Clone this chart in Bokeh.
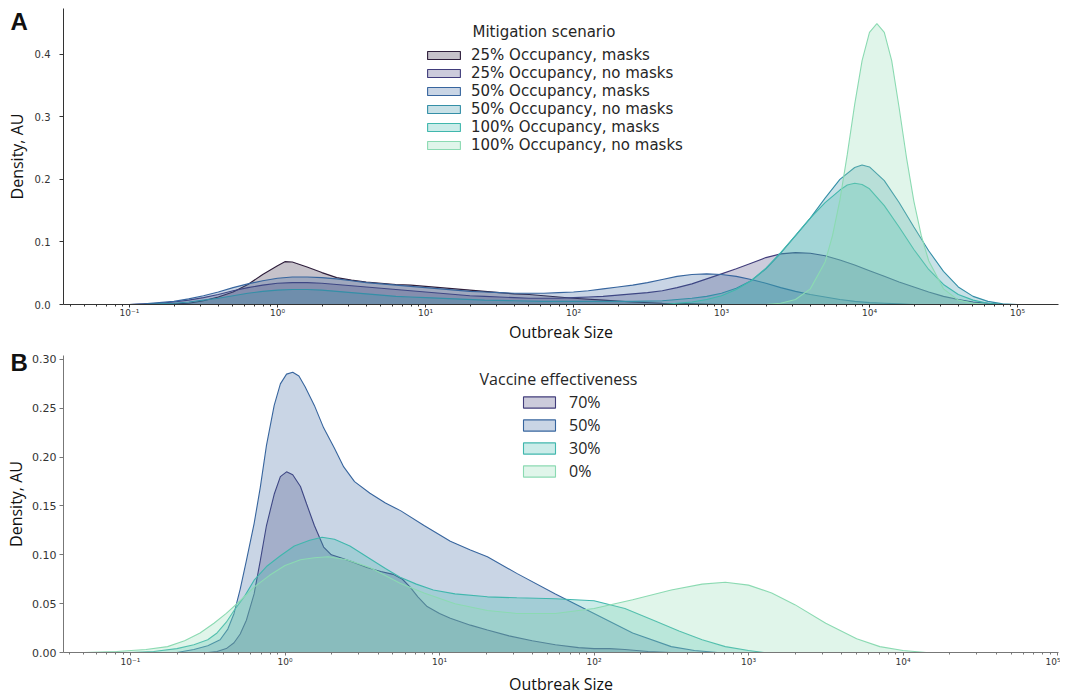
from bokeh.plotting import figure
from bokeh.models import (Legend, LegendItem, Label, FixedTicker, CustomJSTickFormatter,
                          Range1d, PrintfTickFormatter, LinearAxis)
from bokeh.layouts import column
from bokeh.embed import file_html
from bokeh.resources import INLINE

# ---------------- data: (log10 outbreak size, density) ----------------
A_LABELS = ["25% Occupancy, masks", "25% Occupancy, no masks", "50% Occupancy, masks",
            "50% Occupancy, no masks", "100% Occupancy, masks", "100% Occupancy, no masks"]
A_COLORS = ["#2e1e3b", "#413d7b", "#37659e", "#348fa7", "#40b7ad", "#8bdab2"]

occ25_masks = [(-0.8, 0), (-0.7, 0.001), (-0.6, 0.002), (-0.5, 0.006), (-0.4, 0.012), (-0.3, 0.020),
               (-0.2, 0.032), (-0.1, 0.048), (0.0, 0.062), (0.05, 0.0685), (0.1, 0.068), (0.2, 0.060),
               (0.3, 0.051), (0.4, 0.043), (0.5, 0.039), (0.6, 0.036), (0.7, 0.034), (0.8, 0.032),
               (0.9, 0.031), (1.0, 0.029), (1.1, 0.027), (1.2, 0.025), (1.3, 0.023), (1.4, 0.021),
               (1.5, 0.019), (1.6, 0.017), (1.7, 0.016), (1.8, 0.014), (1.9, 0.012), (2.0, 0.010),
               (2.2, 0.007), (2.4, 0.004), (2.6, 0.002), (2.8, 0.001), (3.0, 0)]
occ25_nomasks = [(-1.0, 0), (-0.9, 0.001), (-0.8, 0.002), (-0.7, 0.004), (-0.6, 0.007), (-0.5, 0.011),
                 (-0.4, 0.016), (-0.3, 0.022), (-0.2, 0.027), (-0.1, 0.031), (0.0, 0.034), (0.1, 0.035),
                 (0.2, 0.035), (0.3, 0.034), (0.4, 0.032), (0.5, 0.030), (0.6, 0.028), (0.7, 0.026),
                 (0.8, 0.024), (0.9, 0.022), (1.0, 0.020), (1.1, 0.018), (1.2, 0.016), (1.3, 0.014),
                 (1.4, 0.013), (1.5, 0.012), (1.6, 0.011), (1.7, 0.010), (1.8, 0.010), (1.9, 0.010),
                 (2.0, 0.011), (2.1, 0.012), (2.2, 0.013), (2.3, 0.015), (2.4, 0.017), (2.5, 0.019),
                 (2.6, 0.022), (2.7, 0.027), (2.8, 0.033), (2.9, 0.041), (3.0, 0.049), (3.1, 0.057),
                 (3.2, 0.066), (3.3, 0.075), (3.4, 0.081), (3.5, 0.083), (3.6, 0.082), (3.7, 0.078),
                 (3.8, 0.071), (3.9, 0.063), (4.0, 0.054), (4.1, 0.045), (4.2, 0.036), (4.3, 0.028),
                 (4.4, 0.020), (4.5, 0.013), (4.6, 0.008), (4.7, 0.004), (4.8, 0.002), (4.9, 0)]
occ50_masks = [(-1.0, 0), (-0.9, 0.001), (-0.8, 0.003), (-0.7, 0.005), (-0.6, 0.009), (-0.5, 0.014),
               (-0.4, 0.020), (-0.3, 0.027), (-0.2, 0.033), (-0.1, 0.038), (0.0, 0.042), (0.1, 0.044),
               (0.2, 0.044), (0.3, 0.043), (0.4, 0.041), (0.5, 0.038), (0.6, 0.035), (0.7, 0.033),
               (0.8, 0.031), (0.9, 0.029), (1.0, 0.027), (1.1, 0.025), (1.2, 0.023), (1.3, 0.021),
               (1.4, 0.020), (1.5, 0.019), (1.6, 0.018), (1.7, 0.018), (1.8, 0.018), (1.9, 0.019),
               (2.0, 0.020), (2.1, 0.022), (2.2, 0.025), (2.3, 0.028), (2.4, 0.031), (2.5, 0.035),
               (2.6, 0.040), (2.7, 0.045), (2.8, 0.048), (2.9, 0.049), (3.0, 0.048), (3.1, 0.045),
               (3.2, 0.040), (3.3, 0.034), (3.4, 0.027), (3.5, 0.021), (3.6, 0.016), (3.7, 0.012),
               (3.8, 0.008), (3.9, 0.005), (4.0, 0.003), (4.1, 0.002), (4.2, 0.001), (4.3, 0)]
occ50_nomasks = [(-0.9, 0), (-0.8, 0.001), (-0.7, 0.002), (-0.6, 0.004), (-0.5, 0.007), (-0.4, 0.010),
                 (-0.3, 0.014), (-0.2, 0.018), (-0.1, 0.021), (0.0, 0.023), (0.1, 0.024), (0.2, 0.024),
                 (0.3, 0.023), (0.4, 0.021), (0.5, 0.019), (0.6, 0.017), (0.7, 0.015), (0.8, 0.013),
                 (0.9, 0.012), (1.0, 0.011), (1.2, 0.009), (1.4, 0.007), (1.6, 0.006), (1.8, 0.005),
                 (2.0, 0.005), (2.2, 0.005), (2.4, 0.005), (2.6, 0.006), (2.7, 0.008), (2.8, 0.010),
                 (2.9, 0.013), (3.0, 0.018), (3.1, 0.026), (3.2, 0.038), (3.3, 0.057), (3.4, 0.082),
                 (3.5, 0.110), (3.6, 0.138), (3.7, 0.170), (3.8, 0.200), (3.9, 0.219), (3.95, 0.223),
                 (4.0, 0.220), (4.1, 0.198), (4.2, 0.163), (4.3, 0.124), (4.4, 0.086), (4.5, 0.053),
                 (4.6, 0.028), (4.7, 0.013), (4.8, 0.005), (4.9, 0.001), (5.0, 0)]
occ100_masks = [(2.6, 0), (2.7, 0.002), (2.8, 0.004), (2.9, 0.008), (3.0, 0.014), (3.1, 0.024),
                (3.2, 0.038), (3.3, 0.058), (3.4, 0.083), (3.5, 0.110), (3.6, 0.138), (3.7, 0.163),
                (3.8, 0.183), (3.85, 0.191), (3.9, 0.194), (3.95, 0.192), (4.0, 0.185), (4.1, 0.158),
                (4.2, 0.124), (4.3, 0.088), (4.4, 0.056), (4.5, 0.032), (4.6, 0.016), (4.7, 0.007),
                (4.8, 0.002), (4.9, 0)]
occ100_nomasks = [(3.3, 0), (3.4, 0.002), (3.5, 0.008), (3.6, 0.025), (3.7, 0.068), (3.75, 0.110),
                  (3.8, 0.167), (3.85, 0.240), (3.9, 0.320), (3.95, 0.390), (4.0, 0.435), (4.05, 0.449),
                  (4.1, 0.435), (4.15, 0.390), (4.2, 0.315), (4.25, 0.235), (4.3, 0.165), (4.35, 0.110),
                  (4.4, 0.070), (4.5, 0.025), (4.6, 0.007), (4.7, 0.002), (4.8, 0)]
A_SERIES = [occ25_masks, occ25_nomasks, occ50_masks, occ50_nomasks, occ100_masks, occ100_nomasks]

B_LABELS = ["70%", "50%", "30%", "0%"]
B_COLORS = ["#413d7b", "#37659e", "#40b7ad", "#8bdab2"]

ve70 = [(-0.50, 0), (-0.44, 0.001), (-0.38, 0.004), (-0.33, 0.010), (-0.29, 0.019), (-0.25, 0.033),
        (-0.20, 0.060), (-0.16, 0.094), (-0.12, 0.130), (-0.07, 0.162), (-0.03, 0.180), (0.01, 0.185),
        (0.05, 0.182), (0.10, 0.170), (0.14, 0.152), (0.19, 0.130), (0.25, 0.108), (0.30, 0.100),
        (0.36, 0.097), (0.45, 0.092), (0.53, 0.087), (0.62, 0.083), (0.70, 0.080), (0.76, 0.075),
        (0.81, 0.067), (0.86, 0.057), (0.92, 0.047), (1.00, 0.040), (1.07, 0.035), (1.20, 0.028),
        (1.31, 0.023), (1.45, 0.017), (1.60, 0.012), (1.75, 0.008), (1.90, 0.005), (2.00, 0.004),
        (2.10, 0.004), (2.20, 0.003), (2.35, 0.001), (2.50, 0)]
ve50 = [(-0.70, 0), (-0.59, 0.003), (-0.50, 0.007), (-0.42, 0.013), (-0.37, 0.024), (-0.33, 0.040),
        (-0.29, 0.065), (-0.25, 0.094), (-0.20, 0.132), (-0.16, 0.169), (-0.12, 0.212), (-0.07, 0.253),
        (-0.03, 0.275), (0.01, 0.285), (0.05, 0.287), (0.09, 0.283), (0.13, 0.272), (0.19, 0.253),
        (0.25, 0.230), (0.32, 0.209), (0.38, 0.190), (0.45, 0.175), (0.55, 0.163), (0.65, 0.153),
        (0.75, 0.145), (0.90, 0.130), (1.07, 0.114), (1.20, 0.105), (1.31, 0.098), (1.50, 0.081),
        (1.75, 0.060), (2.00, 0.040), (2.25, 0.020), (2.50, 0.006), (2.65, 0.002), (2.80, 0)]
ve30 = [(-1.00, 0), (-0.85, 0.001), (-0.70, 0.004), (-0.59, 0.008), (-0.50, 0.013), (-0.44, 0.020),
        (-0.38, 0.031), (-0.33, 0.043), (-0.26, 0.058), (-0.20, 0.074), (-0.12, 0.088), (-0.03, 0.099),
        (0.06, 0.109), (0.16, 0.115), (0.24, 0.118), (0.32, 0.116), (0.42, 0.109), (0.55, 0.096),
        (0.65, 0.086), (0.745, 0.077), (0.85, 0.070), (0.96, 0.064), (1.10, 0.060), (1.31, 0.057),
        (1.50, 0.056), (1.75, 0.055), (2.00, 0.053), (2.20, 0.045), (2.40, 0.032), (2.55, 0.022),
        (2.70, 0.013), (2.85, 0.006), (3.00, 0.002), (3.10, 0)]
ve0 = [(-1.30, 0), (-1.09, 0.001), (-0.90, 0.003), (-0.76, 0.006), (-0.65, 0.012), (-0.55, 0.020),
       (-0.46, 0.030), (-0.38, 0.040), (-0.29, 0.053), (-0.20, 0.067), (-0.10, 0.079), (0.00, 0.089),
       (0.10, 0.095), (0.19, 0.097), (0.28, 0.098), (0.40, 0.095), (0.55, 0.087), (0.745, 0.071),
       (0.90, 0.061), (1.10, 0.050), (1.31, 0.043), (1.50, 0.040), (1.75, 0.040), (2.00, 0.045),
       (2.25, 0.054), (2.50, 0.064), (2.70, 0.070), (2.85, 0.072), (3.00, 0.069), (3.15, 0.061),
       (3.30, 0.049), (3.50, 0.030), (3.70, 0.014), (3.85, 0.006), (4.00, 0.002), (4.15, 0)]
B_SERIES = [ve70, ve50, ve30, ve0]

MAJOR_TICKS = [1e-1, 1e0, 1e1, 1e2, 1e3, 1e4, 1e5]
MINOR_TICKS = [k * 10.0 ** e for e in range(-2, 6) for k in range(2, 10)]

SUP_JS = """
const sup = {'-':'\u207b','0':'\u2070','1':'\u00b9','2':'\u00b2','3':'\u00b3','4':'\u2074',
             '5':'\u2075','6':'\u2076','7':'\u2077','8':'\u2078','9':'\u2079'};
const e = Math.round(Math.log10(tick));
return '10' + String(e).split('').map(c => sup[c]).join('');
"""

W = 1060
LEFT = 63


def make_panel(height, lx0, lx1, ytop, yticks, yfmt, border_top, border_bottom,
               spine_color, ytick_size, ystandoff, ylabel_standoff, xstandoff, xlabel_standoff):
    p = figure(width=W, height=height, x_axis_type="log",
               x_range=Range1d(10 ** lx0, 10 ** lx1), y_range=Range1d(0, ytop),
               output_backend="svg", toolbar_location=None,
               min_border_left=LEFT, min_border_right=2,
               min_border_top=border_top, min_border_bottom=border_bottom)
    p.outline_line_color = None
    p.grid.visible = False
    p.background_fill_color = "white"
    p.border_fill_color = "white"
    xa, ya = p.xaxis[0], p.yaxis[0]
    xa.ticker = FixedTicker(ticks=MAJOR_TICKS, minor_ticks=MINOR_TICKS)
    xa.formatter = CustomJSTickFormatter(code=SUP_JS)
    ya.ticker = FixedTicker(ticks=yticks)
    ya.formatter = PrintfTickFormatter(format=yfmt)
    for ax in (xa, ya):
        ax.axis_line_color = spine_color
        ax.major_tick_line_color = spine_color
        ax.major_tick_in = 0
        ax.minor_tick_in = 0
        ax.minor_tick_out = 2
        ax.major_label_text_font = "DejaVu Sans"
        ax.major_label_text_color = "#333333"
        ax.axis_label_text_font = "Open Sans"
        ax.axis_label_text_font_style = "normal"
        ax.axis_label_text_font_size = "16px"
        ax.axis_label_text_color = "#111111"
    xa.major_tick_out = 3
    ya.major_tick_out = 4
    xa.minor_tick_line_color = spine_color
    ya.minor_tick_line_color = None
    xa.major_label_text_font_size = "9px"
    ya.major_label_text_font_size = ytick_size
    xa.major_label_standoff = xstandoff
    xa.axis_label_standoff = xlabel_standoff
    ya.major_label_standoff = ystandoff
    ya.axis_label_standoff = ylabel_standoff
    xa.axis_label = "Outbreak Size"
    ya.axis_label = "Density, AU"
    return p


def panel_letter(p, letter, y_at):
    # single-tick axis on the right whose only label is pulled over to the far left
    ax = LinearAxis(ticker=FixedTicker(ticks=[y_at]),
                    formatter=CustomJSTickFormatter(code="return '%s';" % letter))
    ax.axis_line_color = None
    ax.major_tick_line_color = None
    ax.minor_tick_line_color = None
    ax.major_tick_out = 0
    ax.minor_tick_out = 0
    ax.major_label_standoff = -(W - 2 - 10)
    ax.major_label_text_font = "Liberation Sans"
    ax.major_label_text_font_style = "bold"
    ax.major_label_text_font_size = "24px"
    ax.major_label_text_color = "#111111"
    p.add_layout(ax, "right")


def draw(p, series, colors):
    rends = []
    for pts, c in zip(series, colors):
        xs = [10 ** lx for lx, _ in pts]
        ys = [d for _, d in pts]
        r = p.patch(xs, ys, fill_color=c, fill_alpha=0.27, line_color=c, line_width=1.1)
        rends.append(r)
    return rends


# ---------------- panel A ----------------  frame: x 63..1058, y 8..305
pA = make_panel(345, -1.4459, 5.2771, 297 / 627.5, [0, 0.1, 0.2, 0.3, 0.4], "%.1f",
                8, 40, "#333333", "10px", 9, 4, 0, 0)
rA = draw(pA, A_SERIES, A_COLORS)
legA = Legend(items=[LegendItem(label=l, renderers=[r]) for l, r in zip(A_LABELS, rA)],
              location=(360, 150), orientation="vertical",
              glyph_width=41, glyph_height=10, label_standoff=7, label_height=17,
              spacing=0, padding=0, margin=0,
              label_text_font="DejaVu Sans", label_text_font_size="15px",
              label_text_color="#262626",
              background_fill_alpha=0, border_line_color=None)
pA.add_layout(legA, "center")
pA.add_layout(Label(x=409, y=273, x_units="screen", y_units="screen", text="Mitigation scenario",
                    text_font="DejaVu Sans", text_font_size="15px", text_color="#262626",
                    text_align="left", text_baseline="middle"))
panel_letter(pA, "A", 0.4518)

# ---------------- panel B ----------------  frame: x 63..1058, y 355..653
pB = make_panel(352, -1.4337, 5.0064, 0.30408, [0, 0.05, 0.10, 0.15, 0.20, 0.25, 0.30], "%.2f",
                10, 44, "#777777", "11px", 3, 2, 1, 3)
rB = draw(pB, B_SERIES, B_COLORS)
legB = Legend(items=[LegendItem(label=l, renderers=[r]) for l, r in zip(B_LABELS, rB)],
              location=(456, 170), orientation="vertical",
              glyph_width=40, glyph_height=14, label_standoff=10, label_height=23,
              spacing=0, padding=0, margin=0,
              label_text_font="Open Sans", label_text_font_size="16px",
              label_text_color="#262626",
              background_fill_alpha=0, border_line_color=None)
pB.add_layout(legB, "center")
pB.add_layout(Label(x=495, y=274, x_units="screen", y_units="screen", text="Vaccine effectiveness",
                    text_font="Open Sans", text_font_size="16px", text_color="#262626",
                    text_align="center", text_baseline="middle"))
panel_letter(pB, "B", 0.3036)

layout = column(pA, pB, spacing=0)
open("out.html", "w").write(file_html(layout, INLINE))
